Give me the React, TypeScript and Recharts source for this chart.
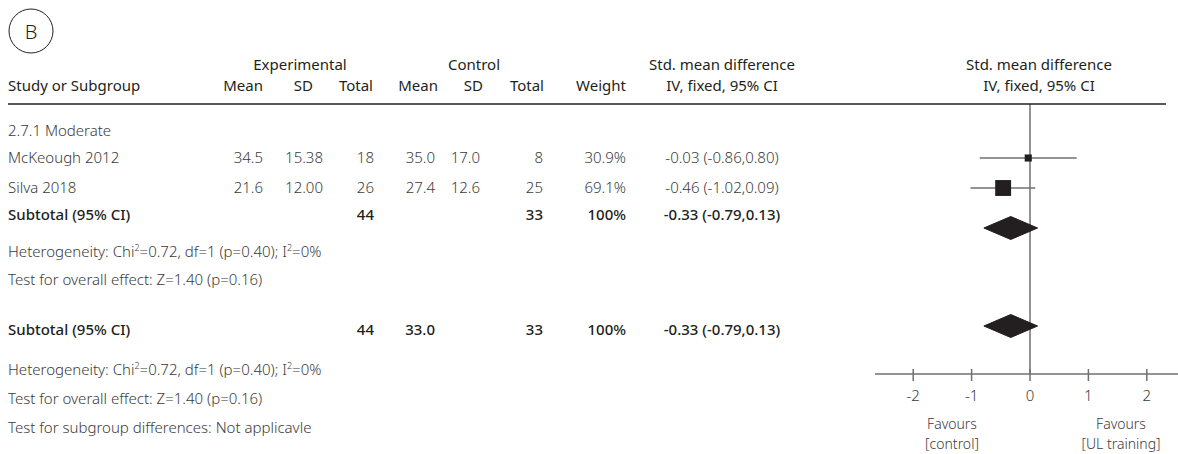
import { ComposedChart, Scatter, XAxis, YAxis, ReferenceLine } from 'recharts';

// forest plot: UL training vs control, standardised mean difference
const studies = ['McKeough 2012', 'Silva 2018'];
const expMean = [34.5, 21.6];
const expSd = [15.38, 12.0];
const expTotal = [18, 26];
const ctlMean = [35.0, 27.4];
const ctlSd = [17.0, 12.6];
const ctlTotal = [8, 25];
const weights = [30.9, 69.1];
const smd = [-0.03, -0.46];
const ciLow = [-0.86, -1.02];
const ciHigh = [0.8, 0.09];

const subtotalExp = 44;
const subtotalCtl = 33;
const subtotalWeight = 100;
const totalCtlMean = 33.0;
const pooledSmd = -0.33;
const pooledLow = -0.79;
const pooledHigh = 0.13;

const xTicks = [-2, -1, 0, 1, 2];
const favours = [
  ['Favours', '[control]'],
  ['Favours', '[UL training]'],
];

const FONT = '"Noto Sans", "Open Sans", sans-serif';
const INK = '#231f20';
const SOFT = '#3b3b3b';
const RULE = '#707070';

const W = 1178;
const H = 454;
const PLOT_LEFT = 875;
const PLOT_TOP = 104;
const AXIS_Y = 374;
const X_DOMAIN: [number, number] = [-2.654, 2.534];

// vertical centre of each text row
const ROW = {
  group: 131,
  study: [158, 188],
  subtotal: 215,
  het: 252,
  effect: 280,
  total: 330,
  het2: 370,
  effect2: 399,
  subgroup: 428,
};
const DIAMOND_Y = [228, 326];
const DIAMOND_HALF = 11.5;

const ciSeries = studies.map((_, i) => [
  { x: ciLow[i], y: ROW.study[i] },
  { x: ciHigh[i], y: ROW.study[i] },
]);
const squares = studies.map((_, i) => ({ x: smd[i], y: ROW.study[i], w: weights[i] }));
const diamonds = DIAMOND_Y.map((y) => [
  { x: pooledLow, y },
  { x: pooledSmd, y: y - DIAMOND_HALF },
  { x: pooledHigh, y },
  { x: pooledSmd, y: y + DIAMOND_HALF },
  { x: pooledLow, y },
]);

const fmtCi = (e: number, lo: number, hi: number) =>
  `${e.toFixed(2)} (${lo.toFixed(2)},${hi.toFixed(2)})`;

function T({ x, y, children, anchor = 'start', weight = 300, color = SOFT, size = 15 }: any) {
  return (
    <text
      x={x}
      y={y + size * 0.36}
      textAnchor={anchor}
      fontFamily={FONT}
      fontSize={size}
      fontWeight={weight}
      fill={color}
    >
      {children}
    </text>
  );
}

function Heterogeneity({ y }: { y: number }) {
  return (
    <T x={8} y={y}>
      Heterogeneity: Chi<tspan dy={-6} fontSize={9}>2</tspan>
      <tspan dy={6}>=0.72, df=1 (p=0.40); I</tspan>
      <tspan dy={-6} fontSize={9}>2</tspan>
      <tspan dy={6}>=0%</tspan>
    </T>
  );
}

function AxisTick({ x, y, payload }: any) {
  return (
    <g>
      <line x1={x} x2={x} y1={y - 5} y2={y + 7} stroke={RULE} strokeWidth={1.5} />
      <text x={x} y={y + 27} textAnchor="middle" fontFamily={FONT} fontSize={15} fontWeight={300} fill={SOFT}>
        {payload.value}
      </text>
    </g>
  );
}

function Square(props: any) {
  const { cx, cy, payload } = props;
  const s = payload.w * 0.23;
  return <rect x={cx - s / 2} y={cy - s / 2} width={s} height={s} fill={INK} />;
}

const Empty = () => <g />;

function Table() {
  return (
    <svg width={W} height={H} style={{ position: 'absolute', left: 0, top: 0, pointerEvents: 'none' }}>
      <circle cx={31} cy={31} r={22} fill="none" stroke={INK} strokeWidth={1} />
      <T x={31} y={32} anchor="middle" size={20} color={INK}>B</T>

      <T x={300} y={65} anchor="middle" weight={400} color={INK}>Experimental</T>
      <T x={474} y={65} anchor="middle" weight={400} color={INK}>Control</T>
      <T x={722} y={65} anchor="middle" weight={400} color={INK}>Std. mean difference</T>
      <T x={1039} y={65} anchor="middle" weight={400} color={INK}>Std. mean difference</T>

      <T x={8} y={86} weight={400} color={INK}>Study or Subgroup</T>
      <T x={263} y={86} anchor="end" weight={400} color={INK}>Mean</T>
      <T x={313} y={86} anchor="end" weight={400} color={INK}>SD</T>
      <T x={373} y={86} anchor="end" weight={400} color={INK}>Total</T>
      <T x={438} y={86} anchor="end" weight={400} color={INK}>Mean</T>
      <T x={483} y={86} anchor="end" weight={400} color={INK}>SD</T>
      <T x={544} y={86} anchor="end" weight={400} color={INK}>Total</T>
      <T x={626} y={86} anchor="end" weight={400} color={INK}>Weight</T>
      <T x={722} y={86} anchor="middle" weight={400} color={INK}>IV, fixed, 95% CI</T>
      <T x={1039} y={86} anchor="middle" weight={400} color={INK}>IV, fixed, 95% CI</T>

      <line x1={8} x2={1166} y1={104} y2={104} stroke={INK} strokeWidth={1.5} />

      <T x={8} y={ROW.group}>2.7.1 Moderate</T>
      {studies.map((s, i) => (
        <g key={s}>
          <T x={8} y={ROW.study[i]}>{s}</T>
          <T x={263} y={ROW.study[i]} anchor="end">{expMean[i].toFixed(1)}</T>
          <T x={323} y={ROW.study[i]} anchor="end">{expSd[i].toFixed(2)}</T>
          <T x={374} y={ROW.study[i]} anchor="end">{expTotal[i]}</T>
          <T x={435} y={ROW.study[i]} anchor="end">{ctlMean[i].toFixed(1)}</T>
          <T x={480} y={ROW.study[i]} anchor="end">{ctlSd[i].toFixed(1)}</T>
          <T x={543} y={ROW.study[i]} anchor="end">{ctlTotal[i]}</T>
          <T x={626} y={ROW.study[i]} anchor="end">{weights[i].toFixed(1)}%</T>
          <T x={722} y={ROW.study[i]} anchor="middle">{fmtCi(smd[i], ciLow[i], ciHigh[i])}</T>
        </g>
      ))}

      <T x={8} y={ROW.subtotal} weight={500} color={INK}>Subtotal (95% CI)</T>
      <T x={374} y={ROW.subtotal} anchor="end" weight={500} color={INK}>{subtotalExp}</T>
      <T x={543} y={ROW.subtotal} anchor="end" weight={500} color={INK}>{subtotalCtl}</T>
      <T x={626} y={ROW.subtotal} anchor="end" weight={500} color={INK}>{subtotalWeight}%</T>
      <T x={722} y={ROW.subtotal} anchor="middle" weight={500} color={INK}>{fmtCi(pooledSmd, pooledLow, pooledHigh)}</T>
      <Heterogeneity y={ROW.het} />
      <T x={8} y={ROW.effect}>Test for overall effect: Z=1.40 (p=0.16)</T>

      <T x={8} y={ROW.total} weight={500} color={INK}>Subtotal (95% CI)</T>
      <T x={374} y={ROW.total} anchor="end" weight={500} color={INK}>{subtotalExp}</T>
      <T x={435} y={ROW.total} anchor="end" weight={500} color={INK}>{totalCtlMean.toFixed(1)}</T>
      <T x={543} y={ROW.total} anchor="end" weight={500} color={INK}>{subtotalCtl}</T>
      <T x={626} y={ROW.total} anchor="end" weight={500} color={INK}>{subtotalWeight}%</T>
      <T x={722} y={ROW.total} anchor="middle" weight={500} color={INK}>{fmtCi(pooledSmd, pooledLow, pooledHigh)}</T>
      <Heterogeneity y={ROW.het2} />
      <T x={8} y={ROW.effect2}>Test for overall effect: Z=1.40 (p=0.16)</T>
      <T x={8} y={ROW.subgroup}>Test for subgroup differences: Not applicavle</T>

      {favours.map(([a, b], i) => {
        const cx = i === 0 ? 952 : 1121;
        return (
          <g key={b}>
            <T x={cx} y={424} anchor="middle" size={14}>{a}</T>
            <T x={cx} y={444} anchor="middle" size={14}>{b}</T>
          </g>
        );
      })}
    </svg>
  );
}

export default function App() {
  return (
    <div style={{ position: 'absolute', left: 0, top: 0, width: W, height: H, background: '#fff', overflow: 'hidden' }}>
      <div style={{ position: 'absolute', left: PLOT_LEFT, top: 0 }}>
        <ComposedChart
          width={W - PLOT_LEFT}
          height={H}
          margin={{ top: PLOT_TOP, right: 0, bottom: 0, left: 0 }}
        >
          <XAxis
            type="number"
            dataKey="x"
            domain={X_DOMAIN}
            ticks={xTicks}
            interval={0}
            allowDataOverflow
            height={H - AXIS_Y}
            tickLine={false}
            tickSize={0}
            tickMargin={0}
            axisLine={{ stroke: RULE, strokeWidth: 1.5 }}
            tick={<AxisTick />}
          />
          <YAxis type="number" dataKey="y" domain={[PLOT_TOP, AXIS_Y]} reversed hide width={0} allowDataOverflow />
          <ReferenceLine x={0} stroke={RULE} strokeWidth={1.5} />
          {ciSeries.map((pts, i) => (
            <Scatter
              key={`ci-${i}`}
              data={pts}
              line={{ stroke: RULE, strokeWidth: 1.5 }}
              shape={Empty}
              isAnimationActive={false}
            />
          ))}
          <Scatter data={squares} shape={Square} isAnimationActive={false} />
          {diamonds.map((pts, i) => (
            <Scatter
              key={`pooled-${i}`}
              data={pts}
              line={{ stroke: INK, strokeWidth: 1, fill: INK }}
              shape={Empty}
              isAnimationActive={false}
            />
          ))}
        </ComposedChart>
      </div>
      <Table />
    </div>
  );
}
